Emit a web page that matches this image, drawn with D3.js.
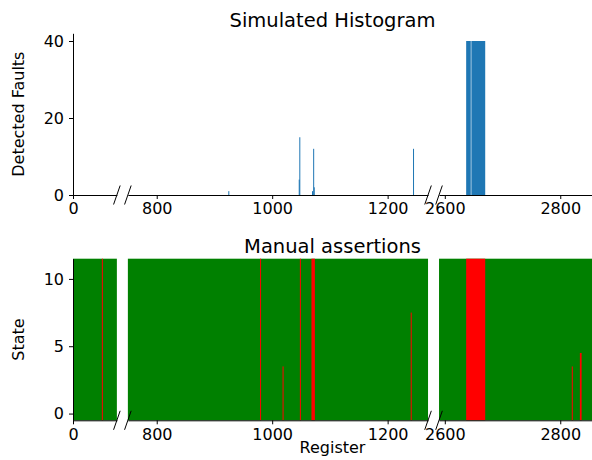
<!DOCTYPE html>
<html>
<head>
<meta charset="utf-8">
<script src="https://cdn.jsdelivr.net/npm/d3@7"></script>
<style>
body { margin: 0; background: #fff; }
text { font-family: "DejaVu Sans", sans-serif; }
</style>
</head>
<body>
<svg id="chart" width="592" height="460"></svg>
<script>
// register ranges kept on the broken x axis, and their ticks
var segments = [[0, 76], [750, 1270], [2590, 2855]];
var segmentTicks = [[0], [800, 1000, 1200], [2600, 2800]];

// simulated histogram: bin start, bin end, detected faults
var binStart = [924, 1046, 1047, 1069, 1071, 1072, 1244, 2637, 2646];
var binEnd   = [925, 1047, 1048, 1070, 1072, 1073, 1245, 2645, 2670];
var faults   = [1, 4, 15, 1, 12, 2, 12, 40, 40];
var faultTicks = [0, 20, 40];

// manual assertions: failing registers and the highest failing state
var assertStart = [50, 979, 1018, 1048, 1068, 1240, 2637, 2820, 2834];
var assertEnd   = [51, 980, 1019, 1049, 1074, 1241, 2670, 2821, 2837];
var assertState = [11, 11, 3, 11, 11, 7, 11, 3, 4];
var states = [0, 11];
var stateTicks = [0, 5, 10];

var svg = d3.select("#chart");
var left = 73, right = 592, gap = 11;

var total = d3.sum(segments, function(s) { return s[1] - s[0]; });
var k = (right - left - gap * (segments.length - 1)) / total;
var x = [];
var pos = left;
segments.forEach(function(s) {
    var w = (s[1] - s[0]) * k;
    x.push(d3.scaleLinear().domain(s).range([pos, pos + w]));
    pos += w + gap;
});
function segOf(v) {
    return segments.findIndex(function(s) { return v >= s[0] && v <= s[1]; });
}
// thin marks get at least one pixel, like the rasterised original
function xStart(d) { return x[segOf(d.s)](d.s); }
function xWidth(d) { var sc = x[segOf(d.s)]; return Math.max(1, sc(d.e) - sc(d.s)); }

function drawXAxis(y0) {
    x.forEach(function(sc, i) {
        svg.append("g")
            .attr("transform", "translate(0," + y0 + ")")
            .call(d3.axisBottom(sc).tickValues(segmentTicks[i]).tickSize(4)
                .tickSizeOuter(0).tickPadding(4).tickFormat(d3.format("d")))
            .attr("font-size", 16).attr("font-family", null)
            .selectAll("text").attr("fill", "#000");
    });
    // break marks at both sides of every gap
    var ends = [];
    for (var i = 0; i < x.length - 1; i++) {
        ends.push(x[i].range()[1], x[i + 1].range()[0]);
    }
    svg.selectAll(null).data(ends).enter().append("line")
        .attr("x1", function(d) { return d - 3.3; })
        .attr("x2", function(d) { return d + 3.3; })
        .attr("y1", y0 + 9.5)
        .attr("y2", y0 - 9.5)
        .attr("stroke", "black")
        .attr("stroke-width", 1);
}

function drawYAxis(sc, ticks, label) {
    svg.append("g")
        .attr("transform", "translate(" + left + ",0)")
        .call(d3.axisLeft(sc).tickValues(ticks).tickSize(4).tickSizeOuter(0).tickPadding(5))
        .attr("font-size", 16).attr("font-family", null)
        .selectAll("text").attr("fill", "#000");
    var r = sc.range();
    svg.append("text")
        .attr("transform", "translate(24," + (r[0] + r[1]) / 2 + ") rotate(-90)")
        .attr("text-anchor", "middle")
        .attr("font-size", 16)
        .text(label);
}

function title(y, txt) {
    svg.append("text")
        .attr("x", (left + right) / 2)
        .attr("y", y)
        .attr("text-anchor", "middle")
        .attr("font-size", 19.5)
        .text(txt);
}

// top panel
var y1 = d3.scaleLinear().domain([0, 42]).range([195, 33.3]);
var bins = binStart.map(function(s, i) { return {s: s, e: binEnd[i], n: faults[i]}; });
svg.selectAll(".bar").data(bins).enter().append("rect")
    .attr("class", "bar")
    .attr("x", xStart)
    .attr("width", xWidth)
    .attr("y", function(d) { return y1(d.n); })
    .attr("height", function(d) { return y1(0) - y1(d.n); })
    .attr("fill", "#1f77b4");
drawXAxis(195);
drawYAxis(y1, faultTicks, "Detected Faults");
title(27, "Simulated Histogram");

// bottom panel
var y2 = d3.scaleLinear().domain([states[0] - 0.5, states[1] + 0.5]).range([420.3, 258.7]);
svg.selectAll(".ok").data(x).enter().append("rect")
    .attr("class", "ok")
    .attr("x", function(sc) { return sc.range()[0]; })
    .attr("width", function(sc) { return sc.range()[1] - sc.range()[0]; })
    .attr("y", y2(states[1] + 0.5))
    .attr("height", y2(states[0] - 0.5) - y2(states[1] + 0.5))
    .attr("fill", "green");
var fails = assertStart.map(function(s, i) { return {s: s, e: assertEnd[i], top: assertState[i]}; });
svg.selectAll(".fail").data(fails).enter().append("rect")
    .attr("class", "fail")
    .attr("x", xStart)
    .attr("width", xWidth)
    .attr("y", function(d) { return y2(d.top + 0.5); })
    .attr("height", function(d) { return y2(states[0] - 0.5) - y2(d.top + 0.5); })
    .attr("fill", "red");
drawXAxis(420.3);
drawYAxis(y2, stateTicks, "State");
title(253, "Manual assertions");

svg.append("text")
    .attr("x", (left + right) / 2)
    .attr("y", 453)
    .attr("text-anchor", "middle")
    .attr("font-size", 16)
    .text("Register");
</script>
</body>
</html>
